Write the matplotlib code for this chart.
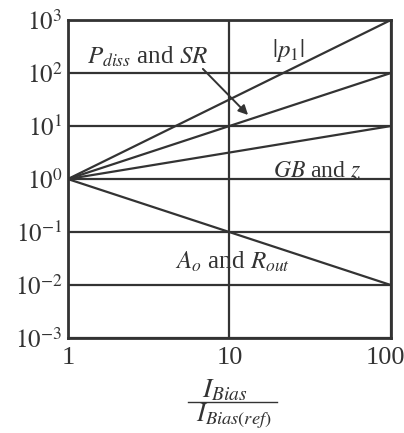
import numpy as np
import matplotlib.pyplot as plt
import matplotlib.transforms as mtransforms
from matplotlib.lines import Line2D

plt.rcParams['font.family'] = ['Liberation Serif', 'DejaVu Serif']
plt.rcParams['mathtext.fontset'] = 'stix'

# normalised bias current and the scaling of each quantity
i_bias = [1, 10, 100]
p1 = [1, 10 ** 1.5, 1000]          # |p1| ~ I^1.5
pdiss_sr = [1, 10, 100]            # Pdiss, SR ~ I
gb_z = [1, 10 ** 0.5, 10]          # GB, z ~ I^0.5
ao_rout = [1, 0.1, 0.01]           # Ao, Rout ~ I^-1

yticks = [1e-3, 1e-2, 1e-1, 1, 10, 100, 1000]
ylabels = ['$10^{-3}$', '$10^{-2}$', '$10^{-1}$', '$10^{0}$', '$10^{1}$', '$10^{2}$', '$10^{3}$']
xticks = [1, 10, 100]
xlabels = ['1', '10', '100']

ink = '#333333'

fig = plt.figure(figsize=(4.04, 4.33), dpi=100)
ax = fig.add_axes([0.168, 0.219, 0.800, 0.735])

for ys in (p1, pdiss_sr, gb_z, ao_rout):
    ax.plot(i_bias, ys, color=ink, lw=1.6)

ax.set_xscale('log')
ax.set_yscale('log')
ax.set_xlim(1, 100)
ax.set_ylim(1e-3, 1e3)
ax.set_xticks(xticks)
ax.set_xticklabels(xlabels, fontsize=19)
ax.set_yticks(yticks)
ax.set_yticklabels(ylabels, fontsize=18)
ax.minorticks_off()
ax.tick_params(length=0, colors=ink)
ax.tick_params(axis='y', pad=4)
ax.tick_params(axis='x', pad=6)
ax.grid(True, color=ink, lw=1.6)
for s in ax.spines.values():
    s.set_color(ink)
    s.set_linewidth(2.0)

# keep the "100" inside the figure
last = ax.get_xticklabels()[-1]
last.set_transform(last.get_transform() + mtransforms.ScaledTranslation(-6 / 100, 0, fig.dpi_scale_trans))

ax.text(3.1, 200, '$P_{diss}$ and $SR$', fontsize=18, ha='center', va='center', color=ink)
ax.text(23, 260, '$|p_1|$', fontsize=18, ha='center', va='center', color=ink)
ax.text(35, 1.4, '$GB$ and $z$', fontsize=17, ha='center', va='center', color=ink)
ax.text(10.5, 0.027, '$A_o$ and $R_{out}$', fontsize=18, ha='center', va='center', color=ink)
ax.annotate('', xy=(13.4, 14.8), xytext=(6.66, 130),
            arrowprops=dict(arrowstyle='-|>', color=ink, lw=1.4, mutation_scale=14))

# x axis label drawn as a stacked fraction
fig.text(0.557, 1 - 397 / 433, '$I_{Bias}$', fontsize=20, ha='center', va='baseline', color=ink)
fig.text(0.578, 1 - 416 / 433, '$I_{Bias(ref)}$', fontsize=19, ha='center', va='center', color=ink)
fig.add_artist(Line2D([188 / 404, 277 / 404], [1 - 402 / 433, 1 - 402 / 433],
                      color=ink, lw=1.0, transform=fig.transFigure))

fig.savefig('out.png', dpi=100)
